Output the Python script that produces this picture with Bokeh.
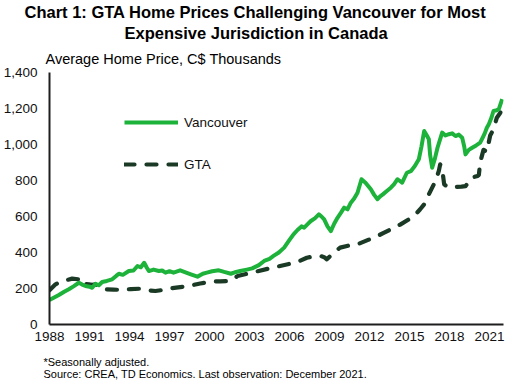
from bokeh.plotting import figure
from bokeh.models import (ColumnDataSource, FixedTicker, NumeralTickFormatter, Title,
                          Legend, LegendItem, Range1d)
from bokeh.embed import file_html
from bokeh.resources import INLINE

# ---- data (C$ thousands) ----
van_year = [1988.0, 1988.35, 1988.7, 1989.1, 1989.45, 1989.8, 1990.2, 1990.45, 1990.7, 1991.0,
            1991.2, 1991.45, 1991.7, 1991.95, 1992.3, 1992.7, 1993.0, 1993.2, 1993.5, 1993.95,
            1994.3, 1994.6, 1994.85, 1995.1, 1995.3, 1995.45, 1995.8, 1996.2, 1996.45, 1996.7,
            1997.0, 1997.3, 1997.8, 1998.2, 1998.6, 1999.1, 1999.5, 1999.8, 2000.2, 2000.7,
            2001.1, 2001.6, 2002.0, 2002.3, 2002.8, 2003.2, 2003.7, 2004.1, 2004.5, 2004.8,
            2005.2, 2005.6, 2006.0, 2006.3, 2006.6, 2006.9, 2007.1, 2007.4, 2007.6, 2007.9,
            2008.2, 2008.4, 2008.6, 2008.85, 2009.1, 2009.35, 2009.6, 2009.85, 2010.1, 2010.35,
            2010.6, 2010.85, 2011.1, 2011.4, 2011.7, 2011.9, 2012.1, 2012.35, 2012.6, 2012.8,
            2013.0, 2013.3, 2013.6, 2013.85, 2014.1, 2014.45, 2014.8, 2015.1, 2015.4, 2015.7,
            2015.9, 2016.1, 2016.3, 2016.45, 2016.55, 2016.7, 2016.9, 2017.1, 2017.3, 2017.45,
            2017.7, 2017.95, 2018.2, 2018.45, 2018.7, 2018.95, 2019.1, 2019.2, 2019.45, 2019.7,
            2020.0, 2020.3, 2020.5, 2020.65, 2020.8, 2020.95, 2021.15, 2021.3, 2021.55, 2021.7,
            2021.95]
van_price = [136, 150, 164, 182, 196, 212, 232, 222, 214, 210,
             204, 226, 218, 236, 242, 251, 270, 282, 276, 297,
             300, 325, 318, 343, 315, 297, 305, 297, 300, 288,
             296, 288, 301, 290, 279, 266, 282, 288, 296, 301,
             292, 282, 292, 297, 305, 312, 330, 353, 365, 381,
             400, 427, 470, 501, 525, 545, 538, 560, 575, 590,
             612, 600, 584, 545, 519, 560, 593, 620, 649, 640,
             677, 700, 732, 807, 788, 770, 751, 720, 696, 712,
             723, 742, 760, 780, 807, 788, 843, 852, 880, 918,
             990, 1075, 1050, 1029, 940, 871, 920, 982, 1030, 1066,
             1050, 1057, 1062, 1047, 1055, 1038, 990, 945, 970, 982,
             995, 1010, 1040, 1063, 1093, 1113, 1150, 1186, 1190, 1197,
             1252]

gta_year = [1988.0, 1988.45, 1988.9, 1989.3, 1989.7, 1990.2, 1990.3, 1990.6, 1990.95, 1991.2,
            1991.45, 1991.8, 1992.1, 1992.8, 1993.45, 1994.1, 1994.8, 1995.4, 1995.95, 1996.5,
            1996.95, 1997.5, 1998.45, 1999.3, 2000.1, 2000.8, 2001.6, 2002.1, 2002.8, 2003.45,
            2004.4, 2005.3, 2006.0, 2006.7, 2007.3, 2007.8, 2008.3, 2008.6, 2008.8, 2009.3,
            2009.8, 2010.5, 2011.1, 2011.9, 2012.6, 2013.1, 2013.6, 2014.3, 2014.95, 2015.45,
            2015.8, 2016.2, 2016.45, 2016.95, 2017.2, 2017.3, 2017.45, 2017.6, 2017.85, 2018.45,
            2018.9, 2019.2, 2019.7, 2020.1, 2020.2, 2020.3, 2020.55, 2020.8, 2021.05, 2021.3,
            2021.55, 2021.8, 2021.95]
gta_price = [190, 223, 240, 247, 255, 251, 225, 226, 223, 220,
             223, 205, 196, 194, 192, 197, 199, 190, 186, 192,
             199, 205, 214, 228, 238, 240, 242, 269, 282, 293,
             310, 325, 337, 351, 371, 378, 381, 374, 362, 399,
             427, 440, 446, 470, 492, 510, 529, 555, 584, 612,
             640, 677, 723, 797, 853, 890, 864, 779, 764, 764,
             766, 769, 816, 825, 830, 900, 970, 960, 1050, 1084,
             1149, 1175, 1200]

x_ticks = [1988, 1991, 1994, 1997, 2000, 2003, 2006, 2009, 2012, 2015, 2018, 2021]
y_ticks = [0, 200, 400, 600, 800, 1000, 1200, 1400]

FONT = "Liberation Sans"
VAN_COLOR = "#1DB23A"
GTA_COLOR = "#1B3A26"

p = figure(output_backend="svg", toolbar_location=None,
           frame_width=454, frame_height=252,
           min_border_left=49, min_border_right=13, min_border_top=72, min_border_bottom=61,
           x_range=Range1d(1988, 2022.05), y_range=Range1d(0, 1400))
p.outline_line_color = None
p.xgrid.visible = False
p.ygrid.visible = False
p.background_fill_color = "white"
p.border_fill_color = "white"

van_src = ColumnDataSource(dict(x=van_year, y=van_price))
gta_src = ColumnDataSource(dict(x=gta_year, y=gta_price))

r_gta = p.line("x", "y", source=gta_src, line_color=GTA_COLOR, line_width=4.2,
               line_dash="10 12", line_cap="round", line_join="round")
r_van = p.line("x", "y", source=van_src, line_color=VAN_COLOR, line_width=4,
               line_join="round")

for ax in (p.xaxis[0], p.yaxis[0]):
    ax.axis_line_color = "#1e1e1e"
    ax.axis_line_width = 2
    ax.major_tick_line_color = None
    ax.minor_tick_line_color = None
    ax.major_tick_out = 0
    ax.major_tick_in = 0
    ax.major_label_text_font = FONT
    ax.major_label_text_color = "#111111"
    ax.major_label_text_font_size = "13.5px"

p.xaxis.ticker = FixedTicker(ticks=x_ticks)
p.xaxis.major_label_standoff = 7
p.yaxis.ticker = FixedTicker(ticks=y_ticks)
p.yaxis.formatter = NumeralTickFormatter(format="0,0")
p.yaxis.major_label_standoff = 12

legend = Legend(items=[LegendItem(label="Vancouver", renderers=[r_van]),
                       LegendItem(label="GTA", renderers=[r_gta])],
                location=(75, 150), padding=0, margin=0, spacing=22,
                glyph_width=54, glyph_height=20, label_height=20, label_standoff=6,
                border_line_color=None, background_fill_alpha=0,
                label_text_font=FONT, label_text_font_size="13.5px",
                label_text_color="#111111")
p.add_layout(legend)

def make_title(txt, offset, size, bold=False, standoff=2, line_height=1.2):
    return Title(text=txt, align="left", offset=offset, text_font=FONT,
                 text_font_size=size, text_font_style="bold" if bold else "normal",
                 text_color="#000000", standoff=standoff, text_line_height=line_height)

# above: innermost first
p.add_layout(make_title("Average Home Price, C$ Thousands", -4, "14.5px", standoff=12), "above")
p.add_layout(make_title("Expensive Jurisdiction in Canada", 75, "16.5px", True, standoff=2), "above")
p.add_layout(make_title("Chart 1: GTA Home Prices Challenging Vancouver for Most", -25, "16.5px", True, standoff=0), "above")
# below (after the x axis)
p.add_layout(make_title("*Seasonally adjusted.\nSource: CREA, TD Economics. Last observation: December 2021.",
                        -6, "11px", standoff=20, line_height=1.05), "below")

open("out.html", "w").write(file_html(p, INLINE))
